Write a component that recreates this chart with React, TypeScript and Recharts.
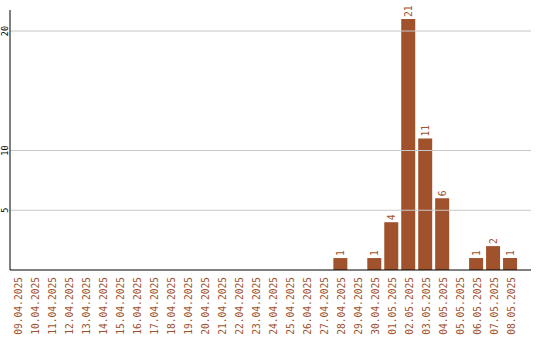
import { BarChart, Bar, XAxis, YAxis, ReferenceLine, LabelList } from "recharts";

const dates = [
  "09.04.2025", "10.04.2025", "11.04.2025", "12.04.2025", "13.04.2025",
  "14.04.2025", "15.04.2025", "16.04.2025", "17.04.2025", "18.04.2025",
  "19.04.2025", "20.04.2025", "21.04.2025", "22.04.2025", "23.04.2025",
  "24.04.2025", "25.04.2025", "26.04.2025", "27.04.2025", "28.04.2025",
  "29.04.2025", "30.04.2025", "01.05.2025", "02.05.2025", "03.05.2025",
  "04.05.2025", "05.05.2025", "06.05.2025", "07.05.2025", "08.05.2025",
];

const counts = [
  0, 0, 0, 0, 0, 0, 0, 0, 0, 0,
  0, 0, 0, 0, 0, 0, 0, 0, 0, 1,
  0, 1, 4, 21, 11, 6, 0, 1, 2, 1,
];

const yTicks = [5, 10, 20];

const data = dates.map((d, i) => ({ date: d, count: counts[i] }));

const BROWN = "#a0522d";
const FONT = "'DejaVu Sans Mono', 'Liberation Mono', monospace";

function XTick(props: any) {
  const { x, y, payload } = props;
  return (
    <text
      transform={`translate(${x + 4},${y - 1}) rotate(-90)`}
      textAnchor="end"
      fill={BROWN}
      fontSize={9.6}
      fontFamily={FONT}
    >
      {payload.value}
    </text>
  );
}

function YTick(props: any) {
  const { y, payload } = props;
  return (
    <text
      transform={`translate(7.5,${y}) rotate(-90)`}
      textAnchor="middle"
      fill="#000"
      fontSize={8.5}
      fontFamily={FONT}
    >
      {payload.value}
    </text>
  );
}

function BarLabel(props: any) {
  const { x, y, width, value } = props;
  if (!value) return null;
  return (
    <text
      transform={`translate(${x + width / 2 + 3.5},${y - 2}) rotate(-90)`}
      textAnchor="start"
      fill={BROWN}
      fontSize={9.6}
      fontFamily={FONT}
    >
      {value}
    </text>
  );
}

export default function App() {
  return (
    <div style={{ position: "absolute", left: 0, top: 0, background: "#fff" }}>
      <BarChart
        width={540}
        height={340}
        data={data}
        margin={{ top: 10, right: 9, left: 0, bottom: 0 }}
        barSize={14}
      >
        {yTicks.map((t) => (
          <ReferenceLine key={t} y={t} stroke="#c8c8c8" />
        ))}
        <XAxis
          dataKey="date"
          interval={0}
          height={70}
          tickLine={false}
          axisLine={{ stroke: "#000", strokeWidth: 1 }}
          padding={{ left: 0, right: 12 }}
          tick={<XTick />}
        />
        <YAxis
          domain={[0, 21.76]}
          ticks={yTicks}
          width={10}
          tickLine={false}
          axisLine={{ stroke: "#000", strokeWidth: 1 }}
          tick={<YTick />}
        />
        <Bar dataKey="count" fill={BROWN} isAnimationActive={false}>
          <LabelList dataKey="count" content={<BarLabel />} />
        </Bar>
      </BarChart>
    </div>
  );
}
